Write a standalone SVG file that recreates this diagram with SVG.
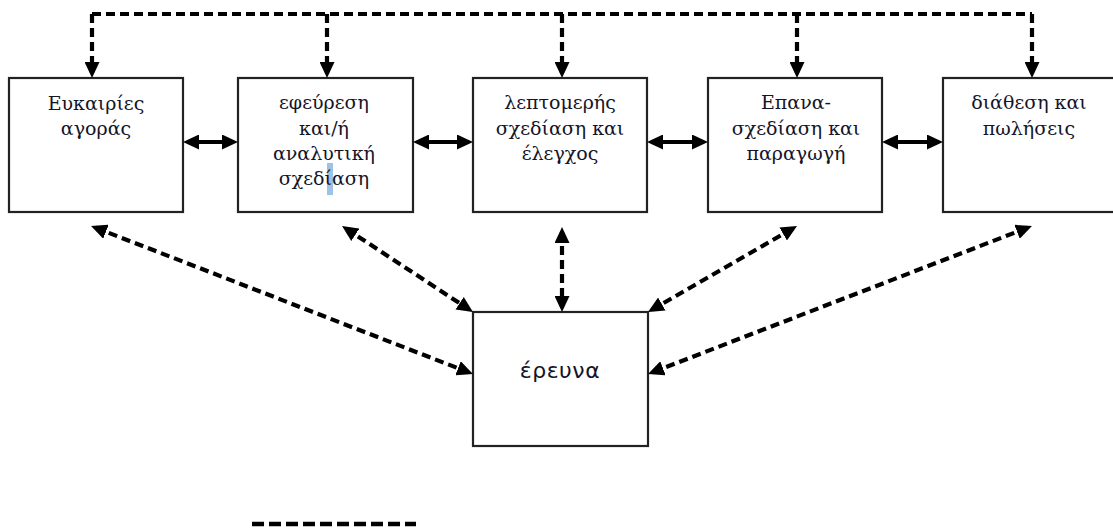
<svg xmlns="http://www.w3.org/2000/svg" width="1113" height="529" viewBox="0 0 1113 529">
<style>
.box{fill:#fff;stroke:#222;stroke-width:2.2}
.t{font-family:"DejaVu Serif","Liberation Serif",serif;font-size:19px;fill:#141428;text-anchor:middle}
.ts{font-family:"DejaVu Sans","Noto Sans",sans-serif;font-size:22px;fill:#141428;text-anchor:middle;letter-spacing:0.5px}
.dash{fill:none;stroke:#000;stroke-width:4.2;stroke-dasharray:9 5}
.solid{fill:none;stroke:#000;stroke-width:4.2}
</style>
<defs>
<marker id="ah" viewBox="0 0 16 15" refX="11" refY="7.5" markerWidth="16" markerHeight="15" markerUnits="userSpaceOnUse" orient="auto-start-reverse">
<path d="M0,0 L16,7.5 L0,15 z" fill="#000"/>
</marker>
</defs>
<rect width="1113" height="529" fill="#fff"/>

<g id="n1">
<rect class="box" x="9" y="78" width="174" height="134"/>
<text class="t" x="96" y="110">Ευκαιρίες</text>
<text class="t" x="96" y="135">αγοράς</text>
</g>
<g id="n2">
<rect class="box" x="238" y="78" width="175" height="134"/>
<rect x="327" y="163" width="6" height="32" fill="#9cc3e4"/>
<text class="t" x="324" y="109">εφεύρεση</text>
<text class="t" x="324" y="135">και/ή</text>
<text class="t" x="324" y="160">αναλυτική</text>
<text class="t" x="324" y="185">σχεδίαση</text>
</g>
<g id="n3">
<rect class="box" x="473" y="78" width="174" height="134"/>
<text class="t" x="560" y="109">λεπτομερής</text>
<text class="t" x="560" y="135">σχεδίαση και</text>
<text class="t" x="560" y="160">έλεγχος</text>
</g>
<g id="n4">
<rect class="box" x="708" y="78" width="174" height="134"/>
<text class="t" x="796" y="109">Επανα-</text>
<text class="t" x="796" y="135">σχεδίαση και</text>
<text class="t" x="796" y="160">παραγωγή</text>
</g>
<g id="n5">
<rect class="box" x="943" y="78" width="178" height="134"/>
<text class="t" x="1029" y="109">διάθεση και</text>
<text class="t" x="1029" y="135">πωλήσεις</text>
</g>
<g id="n6">
<rect class="box" x="473" y="312" width="175" height="134"/>
<text class="ts" x="560" y="378">έρευνα</text>
</g>

<g id="connectors">
<path class="dash" d="M92,14 H1032"/>
<path class="dash" d="M92,14 V73" marker-end="url(#ah)"/>
<path class="dash" d="M327,14 V73" marker-end="url(#ah)"/>
<path class="dash" d="M562,14 V73" marker-end="url(#ah)"/>
<path class="dash" d="M797,14 V73" marker-end="url(#ah)"/>
<path class="dash" d="M1032,14 V73" marker-end="url(#ah)"/>

<path class="solid" d="M188,142 H233" marker-start="url(#ah)" marker-end="url(#ah)"/>
<path class="solid" d="M418,142 H468" marker-start="url(#ah)" marker-end="url(#ah)"/>
<path class="solid" d="M652,142 H703" marker-start="url(#ah)" marker-end="url(#ah)"/>
<path class="solid" d="M887,142 H938" marker-start="url(#ah)" marker-end="url(#ah)"/>

<path class="dash" d="M95.7,227.8 L468.3,372.2" marker-start="url(#ah)" marker-end="url(#ah)"/>
<path class="dash" d="M346.2,228.7 L468.8,309.3" marker-start="url(#ah)" marker-end="url(#ah)"/>
<path class="dash" d="M562,232 V307" marker-start="url(#ah)" marker-end="url(#ah)"/>
<path class="dash" d="M792.7,228.5 L652.3,309.5" marker-start="url(#ah)" marker-end="url(#ah)"/>
<path class="dash" d="M1027.3,227.8 L652.7,372.2" marker-start="url(#ah)" marker-end="url(#ah)"/>

<path d="M252,524 H416" fill="none" stroke="#000" stroke-width="4.5" stroke-dasharray="12 5"/>
</g>
</svg>
